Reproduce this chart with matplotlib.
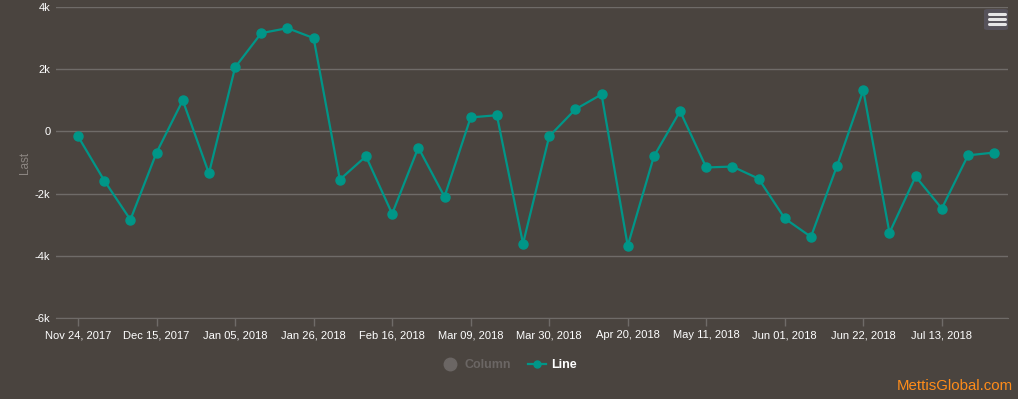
import numpy as np
import pandas as pd
import matplotlib
matplotlib.use("Agg")
import matplotlib.pyplot as plt
import matplotlib.dates as mdates
from matplotlib.lines import Line2D
from matplotlib.patches import FancyBboxPatch

plt.rcParams['font.family'] = ['Liberation Sans', 'DejaVu Sans']

# weekly values, Nov 24 2017 .. Aug 03 2018
dates = pd.date_range("2017-11-24", periods=36, freq="7D")
values = [-160, -1580, -2840, -680, 1000, -1350, 2060, 3160, 3320, 3000,
          -1550, -800, -2650, -520, -2100, 450, 520, -3610, -160, 710,
          1190, -3680, -800, 650, -1160, -1130, -1520, -2800, -3390, -1100,
          1320, -3260, -1450, -2480, -770, -680]
tick_dates = pd.date_range("2017-11-24", "2018-07-13", freq="21D")
yticks = [-6000, -4000, -2000, 0, 2000, 4000]
ylabels = ["-6k", "-4k", "-2k", "0", "2k", "4k"]

bg = "#4a443f"
teal = "#009688"
grid = "#6f6b68"

fig = plt.figure(figsize=(10.18, 3.99), dpi=100, facecolor=bg)
ax = fig.add_axes([56/1018, 1 - 318/399, (1008 - 56)/1018, (318 - 7)/399])
ax.set_facecolor(bg)

ax.plot(dates, values, color=teal, lw=1.6, marker="o", ms=6.5, zorder=3)

ax.set_ylim(-6000, 4000)
ax.set_yticks(yticks)
ax.set_yticklabels(ylabels)
ax.set_xlim(dates[0] - pd.Timedelta(days=5.9), dates[-1] + pd.Timedelta(days=3.7))
ax.set_xticks(tick_dates)
ax.xaxis.set_major_formatter(mdates.DateFormatter("%b %d, %Y"))

ax.grid(axis="y", color=grid, lw=1)
ax.set_axisbelow(True)
for s in ["top", "right", "left"]:
    ax.spines[s].set_visible(False)
ax.spines["bottom"].set_color(grid)
ax.tick_params(axis="x", colors=grid, length=6, width=1, labelcolor="white",
               labelsize=8, pad=3)
ax.tick_params(axis="y", length=0, labelcolor="white", labelsize=8, pad=4)
ax.set_ylabel("Last", color="#8c8682", fontsize=8.5, labelpad=3)

# legend
handles = [Line2D([], [], ls="none", marker="o", ms=9, color="#6b6664"),
           Line2D([], [], color=teal, lw=1.6, marker="o", ms=5)]
leg = fig.legend(handles, ["Column", "Line"], loc="center", bbox_to_anchor=(0.5, 1 - 365/399),
                 ncol=2, frameon=False, fontsize=9, handlelength=1.4,
                 columnspacing=1.4, handletextpad=0.4)
texts = leg.get_texts()
texts[0].set_color("#6b6664")
texts[1].set_color("white")
for t in texts:
    t.set_fontweight("bold")

# menu button
fig.patches.append(FancyBboxPatch((984/1018, 1 - 30/399), 24/1018, 21/399,
                                  boxstyle="round,pad=0,rounding_size=0.004",
                                  transform=fig.transFigure, fc="#56525a", ec="none"))
for yy in [14.3, 19.3, 24.3]:
    fig.lines.append(Line2D([989/1018, 1005/1018], [1 - yy/399, 1 - yy/399],
                            transform=fig.transFigure, color="#e6e6e6", lw=2.2,
                            solid_capstyle="round"))

fig.text(1013/1018, 1 - 386/399, "MettisGlobal.com", color="#ff8c1a",
         fontsize=10.8, ha="right", va="center")

fig.savefig("out.png", dpi=100, facecolor=bg)
